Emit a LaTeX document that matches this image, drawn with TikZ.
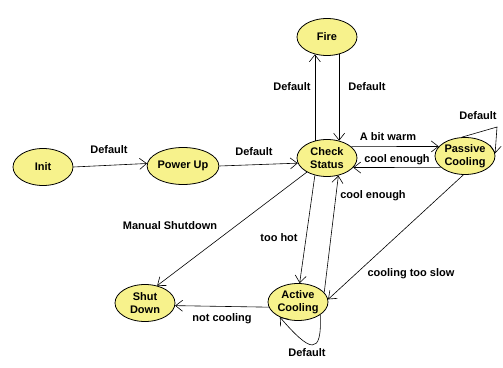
\documentclass[tikz,border=0pt]{standalone}
\usepackage{fontspec}
\setmainfont{Liberation Sans}
\usetikzlibrary{arrows.meta,shapes.geometric}
\definecolor{stateyellow}{RGB}{247,242,140}
\tikzset{
  statebox/.style={ellipse, draw=black, thick, fill=stateyellow,
    minimum width=60pt, minimum height=37pt, inner sep=0pt, align=center,
    font=\fontsize{11}{13}\selectfont\bfseries},
  trans/.style={-{Straight Barb[length=7pt,width=11pt]}, semithick},
  lbl/.style={inner sep=1pt, font=\fontsize{11}{13}\selectfont\bfseries},
}

\begin{document}
\begin{tikzpicture}[x=1pt, y=1pt]
  \useasboundingbox (0,0) rectangle (503,367);

  %% ---- states ----
  \node[statebox] (init) at ( 43,200) {Init};
  \node[statebox] (pu)   at (183,201) {Power Up};
  \node[statebox] (cs)   at (327,209) {Check\\Status};
  \node[statebox] (fire) at (327,330) {Fire};
  \node[statebox] (pc)   at (465,211) {Passive\\Cooling};
  \node[statebox] (ac)   at (298, 65) {Active\\Cooling};
  \node[statebox] (sd)   at (145, 64) {Shut\\Down};

  %% ---- loop corners ----
  \coordinate (pcloop) at (497,240);

  %% ---- transitions ----
  \draw[trans] (init.east) -- (pu.176);
  \draw[trans] (pu.east) -- (cs.190);
  \draw[trans] (cs.125) -- (fire.235);
  \draw[trans] (fire.305) -- (cs.55);
  \draw[trans] (cs.25) -- (pc.160);
  \draw[trans] (pc.205) -- (cs.340);
  \draw[trans] (pc.100) -- (pcloop) -- (pc.5);
  \draw[trans] (cs.235) -- (ac.85);
  \draw[trans] (ac.20) -- (cs.303);
  \draw[trans] (cs.215) -- (sd.55);
  \draw[trans] (pc.265) -- (ac.5);
  \draw[trans] (ac.190) -- (sd.355);
  \draw[trans] (ac.330) .. controls (322,10) and (310,15) .. (ac.220);

  %% ---- labels ----
  \node[lbl] (l1)  at (109,217) {Default};
  \node[lbl] (l2)  at (254,215) {Default};
  \node[lbl] (l3)  at (292,280) {Default};
  \node[lbl] (l4)  at (367,280) {Default};
  \node[lbl] (l5)  at (388,230) {A bit warm};
  \node[lbl] (l6)  at (397,207) {cool enough};
  \node[lbl] (l7)  at (478,251) {Default};
  \node[lbl] (l8)  at (373,171) {cool enough};
  \node[lbl] (l9)  at (411, 93) {cooling too slow};
  \node[lbl] (l10) at (170,141) {Manual Shutdown};
  \node[lbl] (l11) at (279,129) {too hot};
  \node[lbl] (l12) at (222, 48) {not cooling};
  \node[lbl] (l13) at (307, 14) {Default};

\end{tikzpicture}
\end{document}
